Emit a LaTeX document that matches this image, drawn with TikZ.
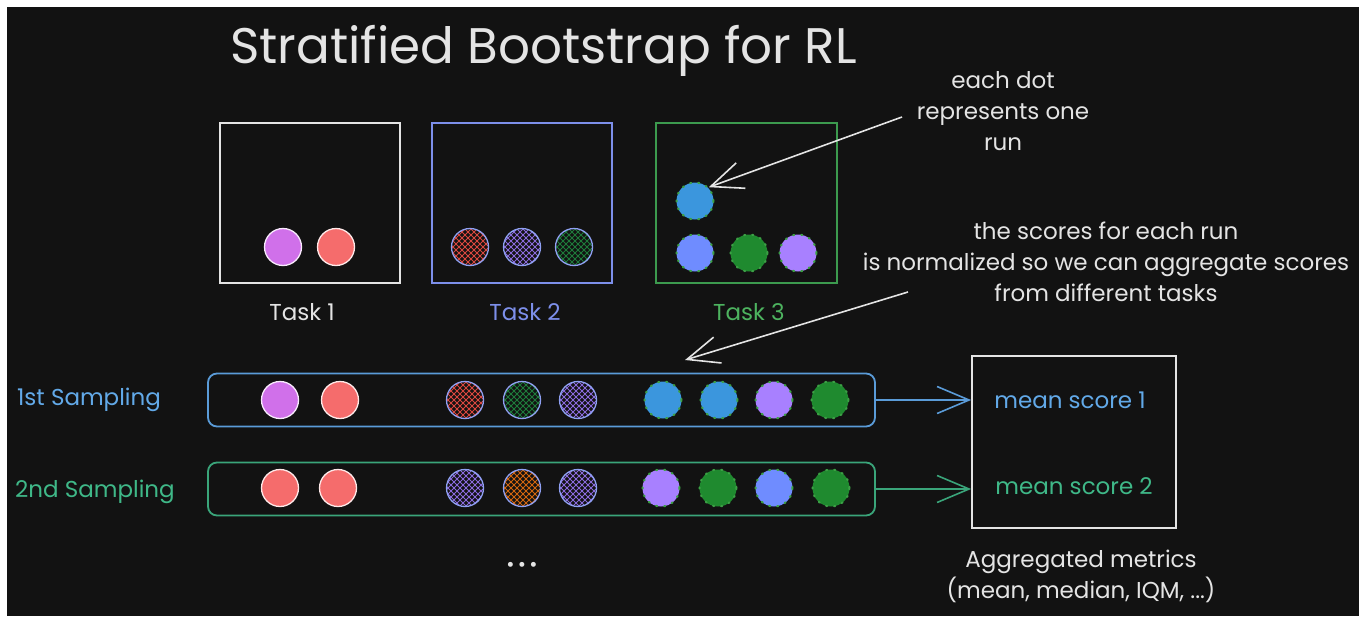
\documentclass[tikz,border=0pt]{standalone}
\usepackage{fontspec}
\setmainfont{Poppins}
\usetikzlibrary{arrows.meta,calc}
\definecolor{bg}{HTML}{121212}
\definecolor{fg}{HTML}{E4E4E4}
\definecolor{ttwo}{HTML}{7D8FEA}
\definecolor{tthree}{HTML}{3C9A4E}
\definecolor{tthreelbl}{HTML}{4DB35F}
\definecolor{rone}{HTML}{5A9BD8}
\definecolor{ronelbl}{HTML}{62A9E8}
\definecolor{rtwo}{HTML}{3AA57A}
\definecolor{rtwolbl}{HTML}{3FB888}
\definecolor{dpurple}{HTML}{D070EA}
\definecolor{dred}{HTML}{F56C6C}
\definecolor{dblue}{HTML}{3B96DD}
\definecolor{dperi}{HTML}{6F8CFF}
\definecolor{dgreen}{HTML}{1F8A2F}
\definecolor{dlav}{HTML}{A880FF}
\definecolor{hred}{HTML}{D9473F}
\definecolor{hpurp}{HTML}{8A6ADB}
\definecolor{hgreen}{HTML}{1E7A3A}
\definecolor{horange}{HTML}{D2650F}
\definecolor{hline}{HTML}{8FA0F2}
\definecolor{speck}{HTML}{3CA045}
\tikzset{
  dotbase/.style={circle, minimum size=37pt, inner sep=0pt, line width=1.3pt},
  soliddot/.style={dotbase, fill=#1, draw=white!85!#1},
  speckdot/.style={dotbase, fill=#1, draw=speck, dash pattern=on 1.2pt off 7pt, line cap=round, line width=2pt},
  hatchdot/.style={dotbase, fill=bg, draw=hline,
    path picture={
      \foreach \k in {-60,-54,...,10}{
        \draw[#1, line width=0.8pt] ([shift={(\k pt,-25pt)}]path picture bounding box.center) -- ++(50pt,50pt);
        \draw[#1, line width=0.8pt] ([shift={(\k pt,25pt)}]path picture bounding box.center) -- ++(50pt,-50pt);
      }}},
  taskbox/.style={draw=#1, line width=1.8pt, minimum width=180pt, minimum height=160pt, inner sep=0pt},
  rowbox/.style={draw=#1, line width=1.8pt, rounded corners=9pt, minimum width=667pt, minimum height=53pt, inner sep=0pt},
  lbl/.style={font=\fontsize{23}{28}\selectfont, text=#1, inner sep=0pt},
  note/.style={font=\fontsize{23}{31}\selectfont, text=fg, align=center, inner sep=0pt},
  barb/.style={-{Straight Barb[length=32pt,width=27pt,line width=1.6pt]}, line width=1.6pt},
}
\begin{document}
\begin{tikzpicture}[x=1pt,y=-1pt]
\useasboundingbox (0,0) rectangle (1360,616);
\fill[white] (0,0) rectangle (1360,616);
\fill[bg] (7,7) rectangle (1359,616);

% title
\node[lbl=fg, font=\fontsize{50}{56}\selectfont, anchor=base] (title) at (543.5,63) {Stratified Bootstrap for RL};

% task boxes
\node[taskbox=fg] (task1) at (310,203) {};
\node[taskbox=ttwo] (task2) at (522,203) {};
\node[taskbox=tthree, minimum width=181pt] (task3) at (746.5,203) {};

\node[lbl=fg, anchor=base] (t1lbl) at (302,320) {Task 1};
\node[lbl=ttwo, anchor=base] (t2lbl) at (525,320) {Task 2};
\node[lbl=tthreelbl, anchor=base] (t3lbl) at (749,320) {Task 3};

% task dots
\node[soliddot=dpurple] (a1) at (283,247) {};
\node[soliddot=dred] (a2) at (336,247) {};
\node[hatchdot=hred] (b1) at (470,247) {};
\node[hatchdot=hpurp] (b2) at (522,247) {};
\node[hatchdot=hgreen] (b3) at (574,247) {};
\node[speckdot=dblue] (c0) at (695,201) {};
\node[speckdot=dperi] (c1) at (695,253) {};
\node[speckdot=dgreen] (c2) at (749,253) {};
\node[speckdot=dlav] (c3) at (798,253) {};

% notes
\node[note] (note1) at (1003,111) {each dot\\represents one\\run};
\node[note] (note2) at (1106,262) {the scores for each run\\is normalized so we can aggregate scores\\from different tasks};

% sampling rows
\node[rowbox=rone] (row1) at (541.5,400) {};
\node[rowbox=rtwo] (row2) at (541.5,489) {};
\node[lbl=ronelbl, anchor=base] (s1lbl) at (89,405) {1st Sampling};
\node[lbl=rtwolbl, anchor=base] (s2lbl) at (95,497) {2nd Sampling};

\node[soliddot=dpurple] (p1) at (280,400) {};
\node[soliddot=dred] (p2) at (340,400) {};
\node[hatchdot=hred] (p3) at (465,400) {};
\node[hatchdot=hgreen] (p4) at (522,400) {};
\node[hatchdot=hpurp] (p5) at (578,400) {};
\node[speckdot=dblue] (p6) at (663,400) {};
\node[speckdot=dblue] (p7) at (719,400) {};
\node[speckdot=dlav] (p8) at (774,400) {};
\node[speckdot=dgreen] (p9) at (830,400) {};

\node[soliddot=dred] (q1) at (280,488) {};
\node[soliddot=dred] (q2) at (338,488) {};
\node[hatchdot=hpurp] (q3) at (465,488) {};
\node[hatchdot=horange] (q4) at (522,488) {};
\node[hatchdot=hpurp] (q5) at (578,488) {};
\node[speckdot=dlav] (q6) at (661,488) {};
\node[speckdot=dgreen] (q7) at (718,488) {};
\node[speckdot=dperi] (q8) at (774,488) {};
\node[speckdot=dgreen] (q9) at (831,488) {};

\node[lbl=fg, font=\fontsize{20}{24}\selectfont] (more) at (522,567) {\textbullet\,\textbullet\,\textbullet};

% aggregated box
\node[taskbox=fg, minimum width=204pt, minimum height=172pt] (agg) at (1074,442) {};
\node[lbl=ronelbl, anchor=base] (m1) at (1070,408) {mean score 1};
\node[lbl=rtwolbl, anchor=base] (m2) at (1074,494) {mean score 2};
\node[note] (aggnote) at (1081,576) {Aggregated metrics\\(mean, median, IQM, ...)};

% connectors
\coordinate (n1s) at (902,117);
\coordinate (n2s) at (908,292);
\coordinate (n2e) at (685,360);
\draw[barb, draw=rone] (row1.east) -- (row1.east -| agg.west);
\draw[barb, draw=rtwo] (row2.east) -- (row2.east -| agg.west);
\draw[barb, draw=fg] (n1s) -- (c0.north east);
\draw[barb, draw=fg] (n2s) -- (n2e);
\end{tikzpicture}
\end{document}
